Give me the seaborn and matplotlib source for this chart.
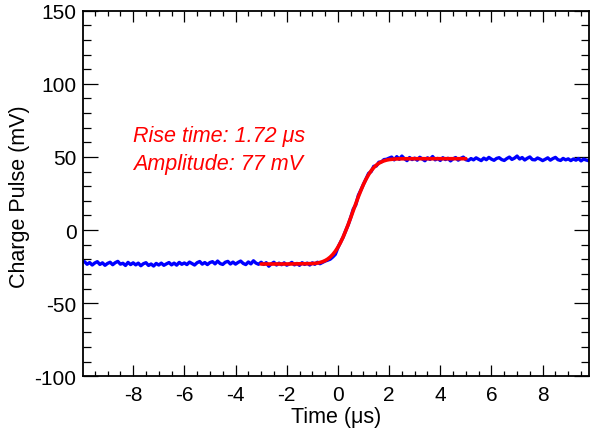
import numpy as np
import pandas as pd
import matplotlib
matplotlib.use("Agg")
import matplotlib.pyplot as plt
import seaborn as sns
from matplotlib.ticker import MultipleLocator

# ---- data ----
t_start, t_stop, n_samples = -9.9, 9.9, 199
pulse_mv = [
    -21.6, -23.4, -22.2, -23.9, -22.5, -21.6, -23.5, -22.4, -24.1, -22.8,
    -22.0, -23.7, -22.3, -21.4, -23.3, -22.7, -24.2, -22.1, -23.6, -22.4,
    -23.8, -22.6, -24.4, -23.0, -22.3, -24.2, -23.2, -24.6, -22.8, -23.9,
    -22.6, -24.1, -23.1, -22.2, -23.8, -22.6, -24.0, -22.1, -23.4, -22.5,
    -23.6, -21.9, -22.9, -23.9, -22.3, -21.5, -23.3, -22.2, -23.6, -22.2,
    -21.6, -23.1, -21.2, -22.9, -23.5, -22.0, -21.4, -23.2, -21.9, -23.3,
    -22.1, -21.2, -22.8, -23.6, -21.8, -23.1, -21.0, -22.6, -23.4, -22.0,
    -23.5, -22.3, -24.7, -23.1, -22.0, -23.9, -22.6, -23.7, -22.4, -24.0,
    -23.2, -22.1, -23.8, -22.8, -24.1, -22.3, -23.5, -22.6, -23.9, -22.4,
    -23.4, -22.0, -23.0, -22.1, -21.2, -20.6, -19.9, -18.4, -16.6,
    -12.0, -8.4, -5.0, -0.6, 3.5, 8.6, 14.3, 17.3, 23.8, 27.4,
    31.4, 35.0, 38.8, 40.0, 43.6, 43.8, 46.4, 46.6, 48.2, 48.4, 49.2,
    49.9, 48.0, 50.2, 48.4, 50.6, 48.8, 47.5, 49.6, 48.2, 49.2,
    47.8, 49.8, 48.6, 47.4, 49.4, 48.3, 50.3, 48.0, 49.0, 47.6,
    49.5, 48.2, 49.1, 47.3, 48.7, 49.6, 47.8, 49.0, 49.9, 48.1,
    47.6, 48.9, 48.0, 49.4, 48.4, 47.5, 49.2, 48.1, 49.7, 48.5,
    47.7, 49.0, 49.5, 48.2, 47.6, 48.9, 49.9, 48.3, 49.2, 50.6,
    48.6, 49.6, 47.9, 49.1, 50.0, 48.2, 48.0, 49.3, 48.5, 47.5,
    48.4, 49.4, 47.8, 48.9, 49.7, 48.1, 47.6, 49.0, 48.0, 48.7,
    47.5, 48.6, 47.8, 48.9, 47.3, 48.5, 47.9, 47.4, 48.3,
]

fit_t = [-3.0, -2.0, -1.0, -0.8, -0.7, -0.6, -0.5, -0.4, -0.3, -0.2, -0.1,
         0.0, 0.1, 0.2, 0.3, 0.4, 0.5, 0.6, 0.7, 0.8, 0.9, 1.0,
         1.1, 1.2, 1.3, 1.4, 1.5, 1.6, 1.7, 1.8, 1.9, 2.0,
         2.2, 2.4, 2.7, 3.0, 4.0, 5.0]
fit_mv = [-23.2, -23.2, -22.94, -22.54, -22.16, -21.63, -20.87, -19.84, -18.46, -16.70, -14.47,
          -11.77, -8.58, -4.91, -0.74, 3.73, 8.44, 13.30, 18.13, 22.81, 27.20, 31.27,
          34.83, 37.93, 40.59, 42.68, 44.37, 45.68, 46.64, 47.34, 47.85, 48.20,
          48.57, 48.72, 48.78, 48.8, 48.8, 48.8]

annotations = ["Rise time: 1.72 \u03bcs", "Amplitude: 77 mV"]

time_us = np.round(np.linspace(t_start, t_stop, n_samples), 2)
trace = pd.DataFrame({"t": time_us, "v": pulse_mv})
fit = pd.DataFrame({"t": fit_t, "v": fit_mv})

# ---- style ----
sns.set_style("ticks")
plt.rcParams["font.family"] = ["Liberation Sans", "DejaVu Sans"]
plt.rcParams["axes.unicode_minus"] = False
plt.rcParams["text.color"] = "black"
plt.rcParams["axes.labelcolor"] = "black"

fig = plt.figure(figsize=(5.91, 4.35), dpi=100)
ax = fig.add_axes([0.140, 0.1326, 0.857, 0.8405])

sns.lineplot(data=trace, x="t", y="v", ax=ax, color="#0000ff", lw=2.4, estimator=None)
sns.lineplot(data=fit, x="t", y="v", ax=ax, color="#ff0000", lw=2.6, estimator=None)

ax.set_xlim(-9.97, 9.82)
ax.set_ylim(-100, 150)
ax.xaxis.set_major_locator(MultipleLocator(2))
ax.xaxis.set_minor_locator(MultipleLocator(0.5))
ax.yaxis.set_major_locator(MultipleLocator(50))
ax.yaxis.set_minor_locator(MultipleLocator(10))

for s in ax.spines.values():
    s.set_visible(True)
    s.set_linewidth(1.3)
    s.set_color("black")

ax.tick_params(axis="both", which="both", direction="in", top=True, right=True,
               color="black", width=0.9, labelsize=15, labelcolor="black")
ax.tick_params(axis="x", which="major", length=8, pad=6)
ax.tick_params(axis="x", which="minor", length=3.6)
ax.tick_params(axis="y", which="major", length=11, pad=4.5)
ax.tick_params(axis="y", which="minor", length=5.8)

xt = [-8, -6, -4, -2, 0, 2, 4, 6, 8]
ax.set_xticks(xt)
ax.set_xticklabels([str(v) for v in xt])

ax.set_xlabel("Time (\u03bcs)", fontsize=15.5, color="black")
ax.set_ylabel("Charge Pulse (mV)", fontsize=15.5, color="black")
ax.xaxis.set_label_coords(0.5, -0.081)
ax.yaxis.set_label_coords(-0.104, 0.4945)

ax.text(-8.0, 60.9, annotations[0], color="#ff0000", style="italic", fontsize=15.5)
ax.text(-8.0, 41.8, annotations[1], color="#ff0000", style="italic", fontsize=15.5)

fig.savefig("out.png", dpi=100)
